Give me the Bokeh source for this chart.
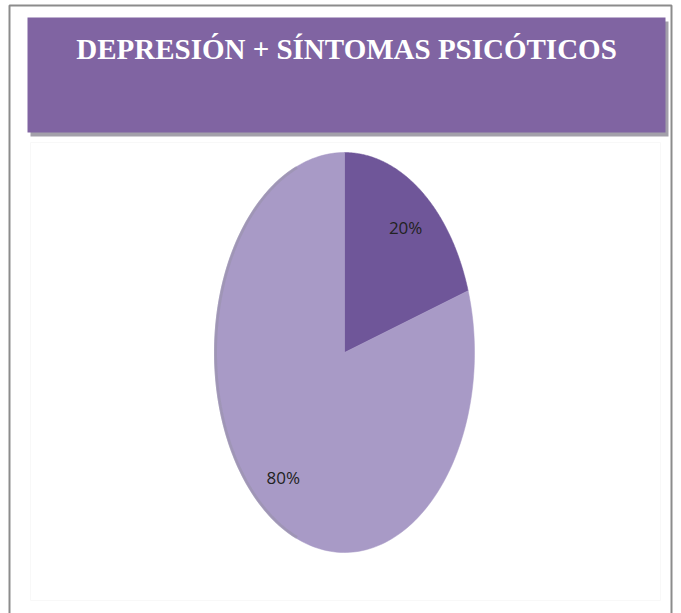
import numpy as np
from bokeh.plotting import figure
from bokeh.models import Range1d, ColumnDataSource
from bokeh.core.properties import value
from bokeh.embed import file_html
from bokeh.resources import INLINE

# ---- data ----
title_text = "DEPRESIÓN + SÍNTOMAS PSICÓTICOS"
categories = ["Sí", "No"]
values = [20, 80]
labels = ["20%", "80%"]
colors = ["#6F5699", "#A89AC6"]

W, H = 681, 613
p = figure(width=W, height=H, output_backend="svg", toolbar_location=None,
           x_range=Range1d(0, W), y_range=Range1d(H, 0), min_border=0)
p.axis.visible = False
p.grid.visible = False
p.outline_line_color = None
p.background_fill_color = "white"
p.border_fill_color = "white"

# outer frame
p.quad(left=[9], right=[671], top=[5], bottom=[640], fill_color=None,
       line_color="#8c8c8c", line_width=2)
# faint inner frame
p.quad(left=[30], right=[660], top=[142], bottom=[600], fill_color=None,
       line_color="#f8f8f8", line_width=1)

# banner shadow + banner
p.quad(left=[30], right=[668], top=[21], bottom=[136], fill_color="#a3a0aa",
       line_color=None)
p.quad(left=[27], right=[665], top=[17], bottom=[132], fill_color="#8064A2",
       line_color=None)
p.text(x=[346], y=[48], text=[title_text], text_color="white",
       text_font=value("Liberation Serif"), text_font_style="bold",
       text_font_size="29px", text_align="center", text_baseline="middle")

# pie (ellipse)
cx, cy, rx, ry = 344, 352, 130, 200
total = float(sum(values))
start = np.pi / 2
xs_list, ys_list, lx, ly = [], [], [], []
for v in values:
    sweep = 2 * np.pi * v / total
    t = np.linspace(start, start - sweep, 200)
    xs = np.concatenate([[cx], cx + rx * np.cos(t), [cx]])
    ys = np.concatenate([[cy], cy - ry * np.sin(t), [cy]])
    xs_list.append(list(xs))
    ys_list.append(list(ys))
    mid = start - sweep / 2
    lx.append(cx + 0.8 * rx * np.cos(mid))
    ly.append(cy - 0.77 * ry * np.sin(mid))
    start -= sweep

src = ColumnDataSource(dict(xs=xs_list, ys=ys_list, color=colors,
                            cat=categories))
p.patches(xs="xs", ys="ys", fill_color="color", line_color="color",
          line_width=0.5, source=src)
# subtle left-edge shading
t = np.linspace(np.pi * 0.62, np.pi * 1.38, 100)
p.line(x=list(cx + (rx - 1) * np.cos(t)), y=list(cy - (ry - 1) * np.sin(t)),
       line_color="#9a93ac", line_width=3, line_alpha=0.6)

p.text(x=lx, y=ly, text=labels, text_color="#222222",
       text_font=value("Open Sans"), text_font_size="17px",
       text_align="center", text_baseline="middle")

open("out.html", "w").write(file_html(p, INLINE))
